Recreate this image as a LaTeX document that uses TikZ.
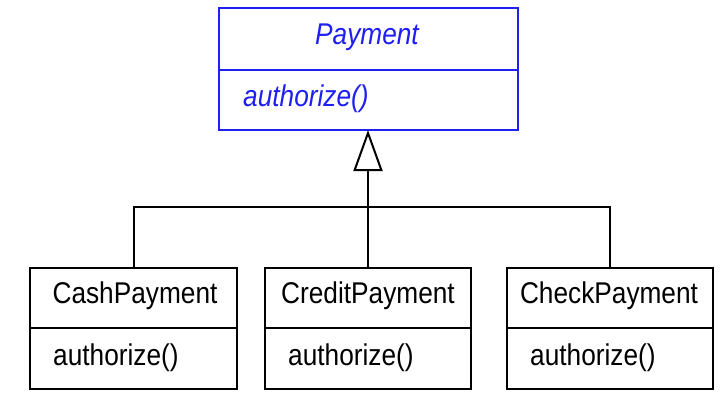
\documentclass[tikz,border=0pt]{standalone}
\usepackage{fontspec}
\setmainfont[FakeStretch=0.875]{Liberation Sans}
\usetikzlibrary{arrows.meta}
\definecolor{umlblue}{RGB}{30,30,245}
\begin{document}
\begin{tikzpicture}[x=1pt,y=-1pt,
  classbox/.style={draw, line width=2pt, minimum height=121pt, inner sep=0pt, outer sep=0pt},
  txt/.style={font=\fontsize{30}{36}\selectfont, inner sep=0pt},
  ctitle/.style={txt, anchor=base},
  cop/.style={txt, anchor=base west},
  link/.style={line width=2pt},
  gen/.style={link, -{Triangle[open, length=41pt, width=29pt, line width=2pt]}}
]
\fill[white] (0,0) rectangle (720,396);
\useasboundingbox (0,0) rectangle (720,396);

% superclass
\node[classbox, draw=umlblue, minimum width=299pt, minimum height=122pt] (pay) at (368,69) {};
\draw[umlblue, line width=2pt] (pay.west |- 0,70) -- (pay.east |- 0,70);
\node[ctitle, text=umlblue, font=\fontsize{30}{36}\selectfont\itshape] (payT) at (367,45) {Payment};
\node[cop, text=umlblue, font=\fontsize{30}{36}\selectfont\itshape] (payO) at (243,106) {authorize()};

% subclasses
\node[classbox, minimum width=207pt] (cash) at (133.5,328.5) {};
\node[classbox, minimum width=206pt] (credit) at (368,328.5) {};
\node[classbox, minimum width=206pt] (check) at (610,328.5) {};
\foreach \c in {cash,credit,check}{
  \draw[line width=2pt] (\c.west |- 0,328) -- (\c.east |- 0,328);
}
\node[ctitle] (cashT) at (135,303) {CashPayment};
\node[cop] (cashO) at (53,365) {authorize()};
\node[ctitle] (creditT) at (368,303) {CreditPayment};
\node[cop] (creditO) at (288,365) {authorize()};
\node[ctitle] (checkT) at (609,303) {CheckPayment};
\node[cop] (checkO) at (530,365) {authorize()};

% generalization
\coordinate (j) at (368,207);
\draw[gen] (credit.north) -- (pay.south);
\draw[link] (cash.north) |- (j);
\draw[link] (check.north) |- (j);
\end{tikzpicture}
\end{document}
